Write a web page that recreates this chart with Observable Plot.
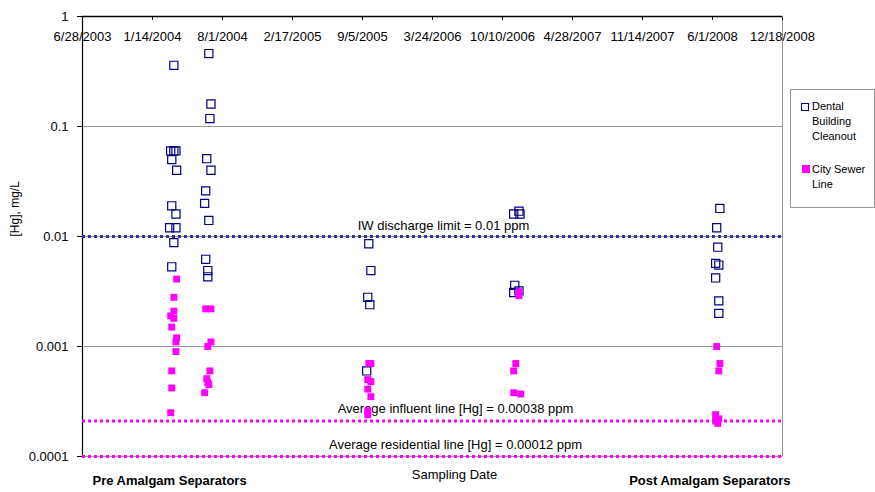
<!DOCTYPE html>
<html><head><meta charset="utf-8">
<script src="https://cdn.jsdelivr.net/npm/d3@7"></script>
<script src="https://cdn.jsdelivr.net/npm/@observablehq/plot@0.6"></script>
<style>
body{margin:0;background:#fff;font-family:"Liberation Sans",Arial,sans-serif;}
#wrap{position:relative;width:875px;height:492px;}
#legend{position:absolute;left:790px;top:89px;width:85px;height:119px;border:1px solid #999;box-sizing:border-box;font-size:11px;line-height:15px;color:#000;}
.lg{position:absolute;}
.sq{position:absolute;width:6px;height:6px;}
</style></head><body>
<div id="wrap"><div id="chart"></div>
<div id="legend">
  <div class="sq" style="left:10px;top:13px;border:1.3px solid #000080;"></div>
  <div class="lg" style="left:21px;top:9px;">Dental<br>Building<br>Cleanout</div>
  <div class="sq" style="left:11px;top:75px;width:8px;height:8px;background:#ff00ff;"></div>
  <div class="lg" style="left:21px;top:72px;">City Sewer<br>Line</div>
</div>
</div>
<script>
// Dental Building Cleanout (open navy squares)
const dentalDates = [
  "2004-03-15","2004-03-06","2004-03-15","2004-03-21","2004-03-09","2004-03-23","2004-03-09","2004-03-21","2004-03-03","2004-03-21","2004-03-15","2004-03-09",
  "2004-06-23","2004-06-29","2004-06-26","2004-06-17","2004-06-29","2004-06-14","2004-06-11","2004-06-23","2004-06-14","2004-06-20","2004-06-20",
  "2005-09-23","2005-09-29","2005-09-20","2005-09-26","2005-09-17",
  "2006-11-11","2006-11-26","2006-11-29","2006-11-14","2006-11-11","2006-11-26",
  "2008-06-22","2008-06-13","2008-06-16","2008-06-10","2008-06-19","2008-06-10","2008-06-19","2008-06-19"
];
const dentalHg = [
  0.36,0.06,0.06,0.06,0.05,0.04,0.019,0.016,0.012,0.012,0.0088,0.0053,
  0.46,0.16,0.118,0.051,0.040,0.026,0.020,0.014,0.0062,0.0049,0.0043,
  0.0086,0.0049,0.0028,0.0024,0.0006,
  0.016,0.017,0.016,0.0036,0.0031,0.0032,
  0.018,0.012,0.008,0.0057,0.0055,0.0042,0.0026,0.002
];
// City Sewer Line (filled magenta squares)
const sewerDates = [
  "2004-03-23","2004-03-15","2004-03-15","2004-03-06","2004-03-15","2004-03-09","2004-03-23","2004-03-21","2004-03-21","2004-03-09","2004-03-09","2004-03-06",
  "2004-06-14","2004-06-29","2004-06-29","2004-06-20","2004-06-26","2004-06-17","2004-06-20","2004-06-23","2004-06-11",
  "2005-09-23","2005-09-29","2005-09-20","2005-09-29","2005-09-20","2005-09-29","2005-09-20","2005-09-20",
  "2006-11-26","2006-11-26","2006-11-17","2006-11-11","2006-11-11","2006-12-01",
  "2008-06-13","2008-06-22","2008-06-19","2008-06-10","2008-06-19","2008-06-16","2008-06-10"
];
const sewerHg = [
  0.0041,0.0028,0.0021,0.0019,0.0018,0.0015,0.0012,0.0011,0.0009,0.0006,0.00042,0.00025,
  0.0022,0.0022,0.0011,0.001,0.0006,0.00051,0.00047,0.00045,0.00038,
  0.0007,0.0007,0.0005,0.00048,0.00041,0.00035,0.00026,0.00024,
  0.00315,0.0029,0.0007,0.0006,0.00038,0.00037,
  0.001,0.0007,0.0006,0.00024,0.00022,0.0002,0.00021
];
const xTickDates = ["2003-06-28","2004-01-14","2004-08-01","2005-02-17","2005-09-05","2006-03-24","2006-10-10","2007-04-28","2007-11-14","2008-06-01","2008-12-18"];
const xTickLabels = ["6/28/2003","1/14/2004","8/1/2004","2/17/2005","9/5/2005","3/24/2006","10/10/2006","4/28/2007","11/14/2007","6/1/2008","12/18/2008"];
const yTicks = [1,0.1,0.01,0.001,0.0001];
const yTickLabels = ["1","0.1","0.01","0.001","0.0001"];
const gridValues = [0.1,0.01,0.001];
const refValues = [0.01,0.00021,0.0001];
const refLabels = ["IW discharge limit = 0.01 ppm","Average influent line [Hg] = 0.00038 ppm","Average residential line [Hg] = 0.00012 ppm"];
const refColors = ["#333399","#ff00ff","#ff00ff"];

const parse = d3.utcParse("%Y-%m-%d");
const dental = dentalDates.map((d,i)=>({date: parse(d), hg: dentalHg[i]}));
const sewer = sewerDates.map((d,i)=>({date: parse(d), hg: sewerHg[i]}));
const xTicks = xTickDates.map(parse);
const refs = refValues.map((v,i)=>({v, label: refLabels[i], color: refColors[i]}));

const chart = Plot.plot({
  width: 875, height: 492,
  marginLeft: 82, marginRight: 93, marginTop: 16, marginBottom: 36,
  style: {fontFamily: "Liberation Sans, Arial, sans-serif", fontSize: "13px", background: "white", color: "#000"},
  x: {type: "utc", domain: [xTicks[0], xTicks[xTicks.length-1]]},
  y: {type: "log", domain: [0.0001, 1]},
  marks: [
    Plot.ruleY(gridValues, {stroke: "#999", strokeWidth: 1}),
    Plot.ruleX([xTicks[xTicks.length-1]], {stroke: "#999", strokeWidth: 1}),
    Plot.ruleY([0.0001], {stroke: "#999", strokeWidth: 1}),
    Plot.ruleY([1], {stroke: "#000", strokeWidth: 1.5}),
    Plot.ruleX([xTicks[0]], {stroke: "#000", strokeWidth: 1.2}),
    Plot.ruleY(refs, {y: "v", stroke: "color", strokeWidth: 3, strokeDasharray: "3,3"}),
    Plot.text(refs.slice(0,1), {y: "v", text: "label", frameAnchor: "middle", dx: 11, dy: -11, fill: "#000", fontSize: 13}),
    Plot.text(refs.slice(1), {y: "v", text: "label", frameAnchor: "middle", dx: 23, dy: -12, fill: "#000", fontSize: 13}),
    Plot.dot(dental, {x: "date", y: "hg", symbol: "square", r: 4.6, stroke: "#000080", fill: "none", strokeWidth: 1.2}),
    Plot.dot(sewer, {x: "date", y: "hg", symbol: "square", r: 3.9, fill: "#ff00ff", stroke: "none"}),
    Plot.axisY({ticks: yTicks, tickFormat: d => yTickLabels[yTicks.indexOf(d)], tickSize: 5, tickPadding: 9, label: null, fontSize: 13}),
    Plot.axisX({anchor: "top", ticks: xTicks, tickSize: -3, tickFormat: () => "", label: null}),
    Plot.text(xTicks, {x: d => d, text: (d,i) => xTickLabels[i], frameAnchor: "top", dy: 15, fontSize: 13}),
    Plot.text(["Sampling Date"], {frameAnchor: "bottom", dx: 22, dy: 22, fontSize: 13}),
    Plot.text(["Pre Amalgam Separators"], {frameAnchor: "bottom-left", textAnchor: "start", dx: 10, dy: 28, fontWeight: "bold", fontSize: 13}),
    Plot.text(["Post Amalgam Separators"], {frameAnchor: "bottom-right", textAnchor: "end", dx: 8, dy: 28, fontWeight: "bold", fontSize: 13}),
    Plot.text(["[Hg], mg/L"], {frameAnchor: "left", dx: -67, rotate: -90, fontSize: 12})
  ]
});
document.getElementById("chart").appendChild(chart);
</script>
</body></html>
